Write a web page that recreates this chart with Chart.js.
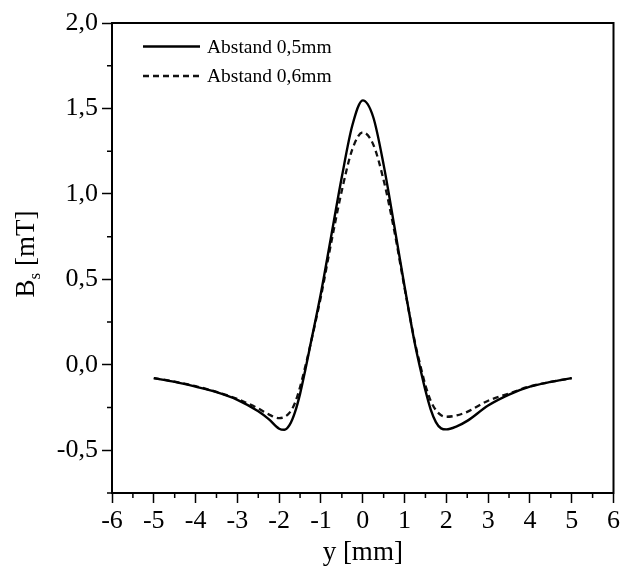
<!DOCTYPE html>
<html>
<head>
<meta charset="utf-8">
<script src="https://cdn.jsdelivr.net/npm/chart.js@4.4.1/dist/chart.umd.min.js"></script>
<style>
  html, body { margin:0; padding:0; background:#fff; }
  #wrap { width:623px; height:577px; }
</style>
</head>
<body>
<div id="wrap"><canvas id="bsChart"></canvas></div>
<script>
// lateral position y [mm]
const yPos = [-5, -4.5, -4, -3.5, -3, -2.5, -2.25, -2, -1.875, -1.75, -1.625, -1.5, -1.375, -1.25, -1, -0.75, -0.5, -0.25,
              0, 0.25, 0.5, 0.75, 1, 1.25, 1.375, 1.5, 1.625, 1.75, 1.875, 2, 2.25, 2.5, 3, 3.5, 4, 4.5, 5];
// B_s [mT] for the two sensor distances
const bsAbstand05 = [-0.078, -0.100, -0.128, -0.160, -0.205, -0.272, -0.318, -0.374, -0.380, -0.352, -0.280, -0.170, -0.030, 0.12, 0.42, 0.76, 1.10, 1.40,
                     1.547, 1.45, 1.17, 0.82, 0.46, 0.12, -0.02, -0.15, -0.26, -0.335, -0.372, -0.378, -0.360, -0.328, -0.238, -0.174, -0.128, -0.100, -0.078];
const bsAbstand06 = [-0.078, -0.098, -0.125, -0.158, -0.200, -0.255, -0.290, -0.312, -0.305, -0.280, -0.225, -0.130, -0.010, 0.12, 0.40, 0.72, 1.02, 1.26,
                     1.36, 1.29, 1.08, 0.79, 0.45, 0.13, 0.00, -0.12, -0.21, -0.265, -0.295, -0.304, -0.296, -0.275, -0.210, -0.168, -0.126, -0.100, -0.078];
const seriesLabels = ['Abstand 0,5mm', 'Abstand 0,6mm'];
const xTickValues = [-6, -5, -4, -3, -2, -1, 0, 1, 2, 3, 4, 5, 6];
const yTickValues = [-0.5, 0, 0.5, 1, 1.5, 2];

const SERIF = '"Liberation Serif", "Times New Roman", serif';
const toPoints = vals => vals.map((v, i) => ({x: yPos[i], y: v}));

// box frame, minor ticks, y title with subscript and the inner legend
const decorations = {
  id: 'decorations',
  afterDraw(chart){
    const {ctx, chartArea: a, scales} = chart;
    ctx.save();
    ctx.strokeStyle = '#000';
    ctx.lineWidth = 2;
    ctx.strokeRect(a.left, a.top, a.right - a.left, a.bottom - a.top);

    // minor ticks halfway between labelled ones
    ctx.lineWidth = 1.5;
    ctx.beginPath();
    for(let v = -5.5; v < 6; v += 1){
      const px = scales.x.getPixelForValue(v);
      ctx.moveTo(px, a.bottom); ctx.lineTo(px, a.bottom + 5);
    }
    for(let v = -0.75; v < 2; v += 0.5){
      const py = scales.y.getPixelForValue(v);
      ctx.moveTo(a.left, py); ctx.lineTo(a.left - 5, py);
    }
    ctx.stroke();

    // B_s [mT]
    ctx.fillStyle = '#000';
    ctx.translate(25, (a.top + a.bottom) / 2 - 4);
    ctx.rotate(-Math.PI / 2);
    ctx.textBaseline = 'alphabetic';
    const big = '27px ' + SERIF, small = '17px ' + SERIF;
    ctx.font = big; const wB = ctx.measureText('B').width, wR = ctx.measureText(' [mT]').width;
    ctx.font = small; const wS = ctx.measureText('s').width;
    let x0 = -(wB + wS + wR) / 2;
    ctx.font = big; ctx.fillText('B', x0, 9);
    ctx.font = small; ctx.fillText('s', x0 + wB, 15);
    ctx.font = big; ctx.fillText(' [mT]', x0 + wB + wS, 9);
    ctx.restore();

    // legend inside the plot
    ctx.save();
    ctx.font = '19.5px ' + SERIF;
    ctx.textBaseline = 'middle';
    chart.data.datasets.forEach((ds, i) => {
      const ly = a.top + 23.5 + i * 29.5;
      ctx.strokeStyle = ds.borderColor;
      ctx.lineWidth = ds.borderWidth;
      ctx.setLineDash(ds.borderDash || []);
      ctx.beginPath();
      ctx.moveTo(a.left + 31, ly); ctx.lineTo(a.left + 88, ly);
      ctx.stroke();
      ctx.fillStyle = '#000';
      ctx.fillText(ds.label, a.left + 95, ly + 1);
    });
    ctx.restore();
  }
};

new Chart(document.getElementById('bsChart'), {
  type: 'line',
  data: {
    datasets: [
      {label: seriesLabels[0], data: toPoints(bsAbstand05), borderColor: '#000', borderWidth: 2.4,
       pointRadius: 0, cubicInterpolationMode: 'monotone', fill: false},
      {label: seriesLabels[1], data: toPoints(bsAbstand06), borderColor: '#111', borderWidth: 2.3,
       borderDash: [6, 4], pointRadius: 0, cubicInterpolationMode: 'monotone', fill: false}
    ]
  },
  options: {
    responsive: true,
    maintainAspectRatio: false,
    animation: false,
    layout: {padding: {top: 23, right: 7, left: 0, bottom: 0}},
    plugins: {legend: {display: false}, tooltip: {enabled: false}},
    scales: {
      x: {
        type: 'linear', min: -6, max: 6,
        afterBuildTicks: s => { s.ticks = xTickValues.map(v => ({value: v})); },
        afterFit: s => { s.height = 84; },
        ticks: {color: '#000', padding: 3, font: {family: SERIF, size: 26}, callback: v => String(v)},
        grid: {drawOnChartArea: false, drawTicks: true, tickLength: 10, tickWidth: 1.5, tickColor: '#000'},
        border: {display: true, color: '#000', width: 2},
        title: {display: true, text: 'y [mm]', color: '#000', font: {family: SERIF, size: 27}, padding: {top: 0, bottom: 8}}
      },
      y: {
        type: 'linear', min: -0.75, max: 2.0,
        afterBuildTicks: s => { s.ticks = yTickValues.map(v => ({value: v})); },
        afterFit: s => { s.width = 112; },
        ticks: {color: '#000', padding: 4, font: {family: SERIF, size: 26},
                callback: v => v.toFixed(1).replace('.', ',')},
        grid: {drawOnChartArea: false, drawTicks: true, tickLength: 10, tickWidth: 1.5, tickColor: '#000'},
        border: {display: true, color: '#000', width: 2}
      }
    }
  },
  plugins: [decorations]
});
</script>
</body>
</html>
